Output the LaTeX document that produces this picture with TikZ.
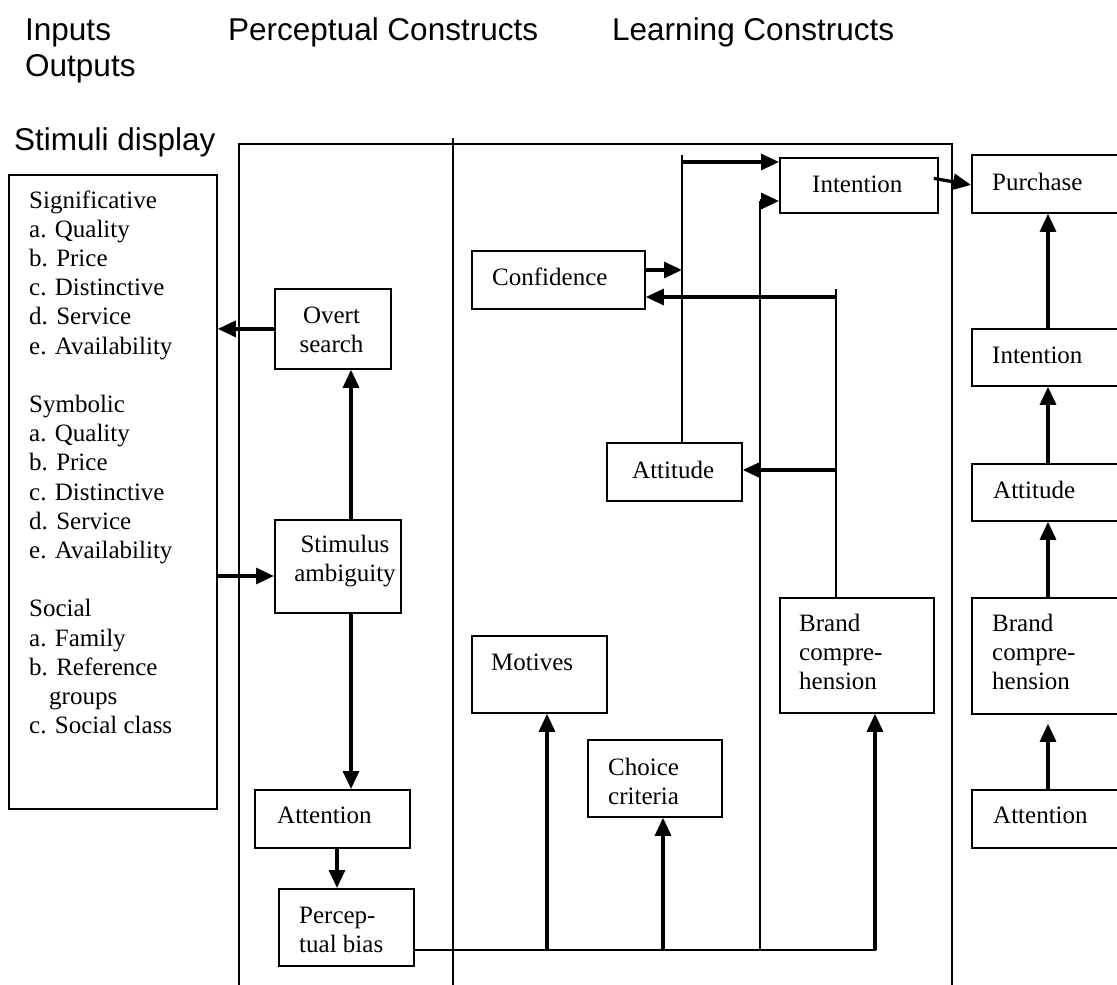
\documentclass[tikz,border=0pt]{standalone}
\usepackage{fontspec}
\setmainfont{Liberation Serif}
\newfontfamily\hdrfont{Liberation Sans}
\usetikzlibrary{arrows.meta}

% multi-line label, baseline on its first line
\newcommand\lns[2][200pt]{\parbox[t]{#1}{\raggedright #2}}
\newcommand\clns[2][200pt]{\parbox[t]{#1}{\centering #2}}

\tikzset{
  bx/.style={draw, line width=1.8pt, inner sep=0pt, anchor=north west},
  lbl/.style={inner sep=0pt, anchor=base west, font=\fontsize{25}{29.2}\selectfont},
  clbl/.style={lbl, anchor=base},
  hdr/.style={inner sep=0pt, anchor=base west, font=\hdrfont\fontsize{31.5}{35}\selectfont},
  wire/.style={line width=1.7pt},
  arr/.style={line width=3.2pt, -{Triangle[length=18pt,width=16pt]}},
  frame/.style={line width=1.7pt},
}

\begin{document}
\begin{tikzpicture}[x=1pt, y=-1pt]
\fill[white] (0,0) rectangle (1117,985);
\useasboundingbox (0,0) rectangle (1117,985);

% column headings
\node[hdr] (hIn)   at (25,40)  {Inputs};
\node[hdr] (hOut)  at (25,76)  {Outputs};
\node[hdr] (hPerc) at (228,40) {Perceptual Constructs};
\node[hdr] (hLrn)  at (612,40) {Learning Constructs};
\node[hdr] (hStim) at (14,150) {Stimuli display};

% perceptual / learning frame
\draw[frame] (239,985) -- (239,144) -- (952,144) -- (952,985);
\draw[frame] (453,138) -- (453,985);

% boxes
\node[bx, minimum width=208pt, minimum height=634pt] (stim)   at (8,174)   {};
\node[bx, minimum width=116pt, minimum height=80pt]  (overt)  at (274,288) {};
\node[bx, minimum width=126pt, minimum height=93pt]  (amb)    at (274,519) {};
\node[bx, minimum width=155pt, minimum height=58pt]  (attL)   at (254,789) {};
\node[bx, minimum width=135pt, minimum height=77pt]  (pbias)  at (278,888) {};
\node[bx, minimum width=173pt, minimum height=58pt]  (conf)   at (471,250) {};
\node[bx, minimum width=135pt, minimum height=58pt]  (attM)   at (606,442) {};
\node[bx, minimum width=158pt, minimum height=55pt]  (intT)   at (779,157) {};
\node[bx, minimum width=160pt, minimum height=58pt]  (purch)  at (971,154) {};
\node[bx, minimum width=135pt, minimum height=77pt]  (motiv)  at (471,635) {};
\node[bx, minimum width=134pt, minimum height=77pt]  (choice) at (587,739) {};
\node[bx, minimum width=154pt, minimum height=115pt] (brandM) at (779,597) {};
\node[bx, minimum width=160pt, minimum height=116pt] (brandR) at (971,597) {};
\node[bx, minimum width=160pt, minimum height=58pt]  (attR)   at (971,789) {};
\node[bx, minimum width=160pt, minimum height=57pt]  (intR)   at (971,328) {};
\node[bx, minimum width=160pt, minimum height=57pt]  (attuR)  at (971,463) {};

% box texts
\node[lbl] (stimT) at (29,208) {\lns{Significative\\a. Quality\\b. Price\\c. Distinctive\\d. Service\\e. Availability\\[29.2pt]
Symbolic\\a. Quality\\b. Price\\c. Distinctive\\d. Service\\e. Availability\\[29.2pt]
Social\\a. Family\\b. Reference\\\hspace*{20pt}groups\\c. Social class}};
\node[clbl] (overtT)  at (331.5,323) {\clns[110pt]{Overt\\search}};
\node[clbl] (ambT)    at (345,552)   {\clns[120pt]{Stimulus\\ambiguity}};
\node[lbl]  (attLT)   at (277,823)   {Attention};
\node[lbl]  (pbiasT)  at (299,923)   {\lns{Percep-\\tual bias}};
\node[lbl]  (confT)   at (492,285)   {Confidence};
\node[lbl]  (attMT)   at (632,478)   {Attitude};
\node[lbl]  (intTT)   at (812,192)   {Intention};
\node[lbl]  (purchT)  at (992,190)   {Purchase};
\node[lbl]  (motivT)  at (491,670)   {Motives};
\node[lbl]  (choiceT) at (608,775)   {\lns{Choice\\criteria}};
\node[lbl]  (brandMT) at (799,631)   {\lns{Brand\\compre-\\hension}};
\node[lbl]  (brandRT) at (992,631)   {\lns{Brand\\compre-\\hension}};
\node[lbl]  (attRT)   at (993,823)   {Attention};
\node[lbl]  (intRT)   at (992,363)   {Intention};
\node[lbl]  (attuRT)  at (993,498)   {Attitude};

% perceptual connections
\draw[arr] (overt.west) -- (overt.west -| stim.east);
\draw[arr] (stim.east |- 0,576) -- (amb.west |- 0,576);
\draw[arr] (amb.north -| 351,0) -- (overt.south -| 351,0);
\draw[arr] (amb.south -| 351,0) -- (attL.north -| 351,0);
\draw[arr] (attL.south -| 337,0) -- (pbias.north -| 337,0);

% bias bus feeding the learning constructs
\coordinate (busEnd) at (876,950);
\draw[wire] (pbias.east |- 0,950) -- (busEnd);
\coordinate (bMot) at (547,950);
\coordinate (bCho) at (663,950);
\coordinate (bBra) at (875,950);
\draw[arr] (bMot) -- (motiv.south -| bMot);
\draw[arr] (bCho) -- (choice.south -| bCho);
\draw[arr] (bBra) -- (brandM.south -| bBra);

% bus riser to intention
\coordinate (rBot) at (760,950);
\coordinate (rTop) at (760,201);
\draw[wire] (rBot) -- (rTop);
\draw[arr] (rTop) -- (intT.west |- rTop);

% attitude and confidence to intention
\coordinate (aTop) at (682,155);
\coordinate (aIn)  at (682,162);
\coordinate (cIn)  at (682,270);
\draw[wire] (attM.north -| aTop) -- (aTop);
\draw[arr] (aIn) -- (intT.west |- aIn);
\draw[arr] (conf.east |- cIn) -- (cIn);

% brand comprehension feedback
\coordinate (fTop) at (836,289);
\coordinate (fConf) at (836,297);
\coordinate (fAtt) at (836,470);
\draw[wire] (brandM.north -| fTop) -- (fTop);
\draw[arr] (fConf) -- (conf.east |- fConf);
\draw[arr] (fAtt) -- (attM.east |- fAtt);

% intention to purchase
\draw[arr] ([shift={(-5,-7)}]intT.east) -- ([yshift=-1pt]purch.west);

% outputs column
\coordinate (oc) at (1048,0);
\draw[arr] (attR.north -| oc) -- ([yshift=-9pt]brandR.south -| oc);
\draw[arr] (brandR.north -| oc) -- (attuR.south -| oc);
\draw[arr] (attuR.north -| oc) -- (intR.south -| oc);
\draw[arr] (intR.north -| oc) -- (purch.south -| oc);
\end{tikzpicture}
\end{document}
